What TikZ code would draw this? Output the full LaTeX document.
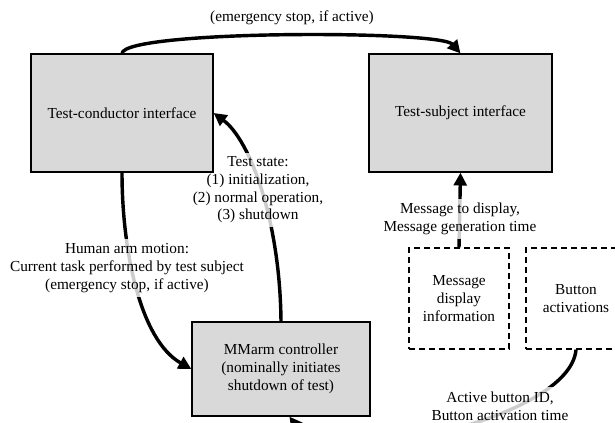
\documentclass[tikz,border=0pt]{standalone}
\usepackage{fontspec}
\setmainfont{Liberation Serif}
\usetikzlibrary{arrows.meta}
\definecolor{boxgray}{RGB}{217,217,217}
\pgfdeclarelayer{back}
\pgfsetlayers{back,main}

\begin{document}
\begin{tikzpicture}[x=0.7pt,y=-0.7pt,font=\fontsize{10.7pt}{12.4pt}\selectfont,
    blk/.style={draw,line width=0.9pt,fill=boxgray,align=center,inner sep=2pt},
    dsh/.style={draw,line width=1pt,dash pattern=on 4pt off 3pt,align=center,inner sep=2pt},
    flow/.style={line width=2.4pt,-{Triangle[length=9pt,width=9pt]}},
    lbl/.style={fill=white,fill opacity=0.8,text opacity=1,align=center,inner sep=3pt}]
    \useasboundingbox (0,0) rectangle (615,422);
    \clip (0,0) rectangle (615,422);
    \node[blk,minimum width=127.4pt,minimum height=82.6pt] (tc) at (122,113) {Test-conductor interface};
    \node[blk,minimum width=128pt,minimum height=82.6pt] (ts) at (460.5,113) {Test-subject interface};
    \node[blk,minimum width=124.6pt,minimum height=65.8pt] (mm) at (281,369) {MMarm controller\\(nominally initiates\\shutdown of test)};
    \node[dsh,minimum width=70pt,minimum height=70.7pt] (md) at (459,298.5) {Message\\display\\information};
    \node[dsh,minimum width=70pt,minimum height=70.7pt] (ba) at (576,298.5) {Button\\activations};
    \begin{pgfonlayer}{back}
    \draw[flow] (tc.north) .. controls (125,30) and (440,30) .. (ts.north);
    \draw[flow] (tc.south) .. controls (122,250) and (140,340) .. (mm.west);
    \draw[flow] (mm.north) .. controls (280,220) and (250,140) .. (tc.east);
    \draw[flow] (md.north) -- (ts.south);
    \draw[flow] (ba.south) .. controls (570,420) and (330,470) .. (mm.280);
    \node[lbl] (stop) at (292,18) {(emergency stop, if active)};
    \node[lbl] (arm) at (127,268) {Human arm motion:\\Current task performed by test subject\\(emergency stop, if active)};
    \node[lbl] (state) at (258,190) {Test state:\\(1) initialization,\\(2) normal operation,\\(3) shutdown};
    \node[lbl] (msg) at (460,219) {Message to display,\\Message generation time};
    \node[lbl] (btn) at (500,406) {Active button ID,\\Button activation time};
    \end{pgfonlayer}
\end{tikzpicture}
\end{document}
